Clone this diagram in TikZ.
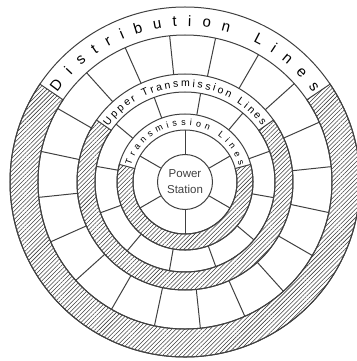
\documentclass[tikz,border=0pt]{standalone}
\usepackage{fontspec}
\setmainfont{Liberation Sans}
\usetikzlibrary{decorations.text,patterns.meta}

\begin{document}
\begin{tikzpicture}[x=1pt, y=1pt, line width=1pt, color=black!75,
    hatch/.style = {pattern={Lines[angle=45, distance=3pt, line width=0.55pt]}, pattern color=black!75},
    bandtext/.style = {decoration={text along path, text align=fit to path, text={#1}}, decorate}]
      \useasboundingbox (-185,-179) rectangle (171,182);

      \draw[hatch] (146:147) arc[start angle=146, end angle=394, radius=147] -- (34:175)
        arc[start angle=34, end angle=-214, radius=175] -- cycle;
      \draw[hatch] (145:90) arc[start angle=145, end angle=395, radius=90] -- (35:108)
        arc[start angle=35, end angle=-215, radius=108] -- cycle;
      \draw[hatch] (165:52) arc[start angle=165, end angle=375, radius=52] -- (15:68)
        arc[start angle=15, end angle=-195, radius=68] -- cycle;

      \draw (0,0) circle[radius=175] (0,0) circle[radius=147]
            (0,0) circle[radius=108] (0,0) circle[radius=90]
            (0,0) circle[radius=68] (0,0) circle[radius=52];

      \node[circle, draw, minimum size=55pt, inner sep=0pt, align=center,
            font=\fontsize{11.5}{16}\selectfont] (ps) at (0,0) {Power\\Station};

      \foreach \a in {30,90,...,330} \draw (ps.\a) -- (\a:52);
      \foreach \a in {20,50,...,350} \draw (\a:68) -- (\a:90);
      \foreach \a in {6,24,...,348} \draw (\a:108) -- (\a:147);

      \path[bandtext={|\fontsize{15}{15}\selectfont|Distribution Lines}]
        (145:156) arc[start angle=145, end angle=35, radius=156];
      \path[bandtext={|\fontsize{10.5}{10.5}\selectfont|Upper Transmission Lines}]
        (144:95) arc[start angle=144, end angle=36, radius=95];
      \path[bandtext={|\fontsize{9}{9}\selectfont|Transmission Lines}]
        (163:56.5) arc[start angle=163, end angle=17, radius=56.5];
    \end{tikzpicture}
\end{document}
